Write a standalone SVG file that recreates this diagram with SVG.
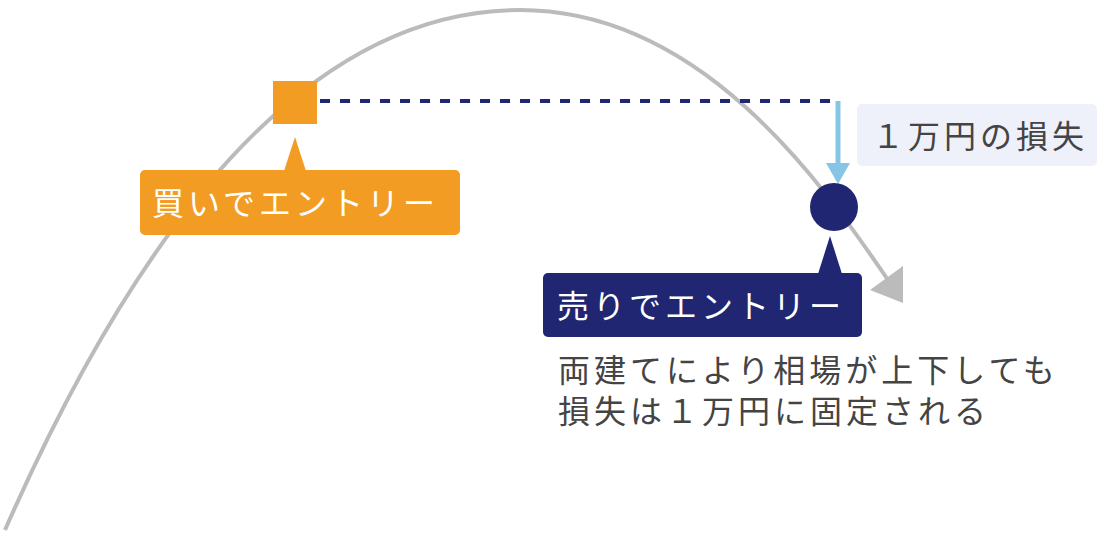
<svg xmlns="http://www.w3.org/2000/svg" width="1100" height="540" viewBox="0 0 1100 540">
<style>
.jp{font-family:"Noto Sans CJK JP","Noto Sans",sans-serif;font-size:32px;letter-spacing:4px}
.w{fill:#ffffff}
.g{fill:#444444}
</style>
<rect width="1100" height="540" fill="#ffffff"/>
<g id="connectors">
<path id="curve" d="M5,530 C150,200 320,10 520,10 C700,10 820,180 888,280" fill="none" stroke="#bbbbbb" stroke-width="4"/>
<polygon points="870,290 903,266 903,303" fill="#bbbbbb"/>
<line x1="320" y1="101" x2="838" y2="101" stroke="#202672" stroke-width="4" stroke-dasharray="10,10"/>
<line x1="838" y1="101" x2="838" y2="165" stroke="#86c5e5" stroke-width="5"/>
<polygon points="826,163 850,163 838,184" fill="#86c5e5"/>
</g>
<g id="buy-marker"><rect x="273" y="81" width="44" height="43" fill="#f39c24"/></g>
<g id="buy-label">
<polygon points="295,137 284,171 306,171" fill="#f39c24"/>
<rect x="140" y="170" width="320" height="65" rx="5" fill="#f39c24"/>
<text x="152" y="215" class="jp w">買いでエントリー</text>
</g>
<g id="sell-marker"><circle cx="834" cy="207" r="24" fill="#202672"/></g>
<g id="sell-label">
<polygon points="830,236 818,274 842,274" fill="#202672"/>
<rect x="543" y="273" width="319" height="64" rx="5" fill="#202672"/>
<text x="557" y="318" class="jp w">売りでエントリー</text>
</g>
<g id="loss-label">
<rect x="857" y="104" width="240" height="62" rx="5" fill="#eef0fa"/>
<text x="872" y="148" class="jp g">１万円の損失</text>
</g>
<g id="note">
<text class="jp g"><tspan x="558" y="382">両建てにより相場が上下しても</tspan><tspan x="558" y="423">損失は１万円に固定される</tspan></text>
</g>
</svg>
